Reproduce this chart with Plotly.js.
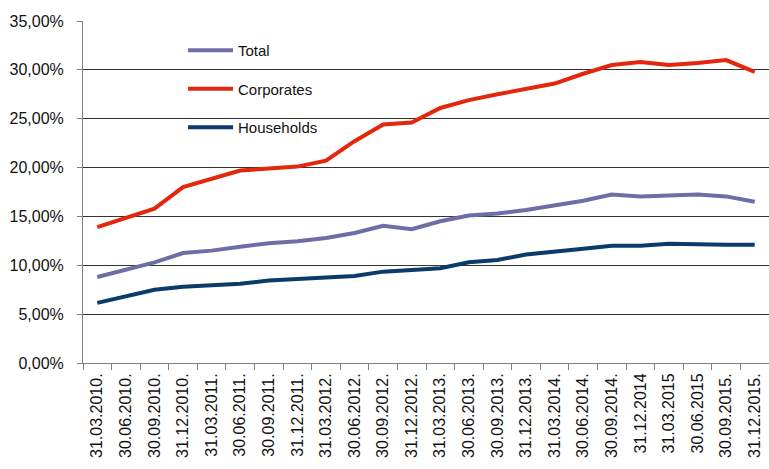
<!DOCTYPE html>
<html>
<head>
<meta charset="utf-8">
<script src="https://cdn.plot.ly/plotly-3.0.1.min.js"></script>
<style>html,body{margin:0;padding:0;background:#fff;}#chart{width:769px;height:469px;}</style>
</head>
<body>
<div id="chart"></div>
<script>
const dates = ["31.03.2010.","30.06.2010.","30.09.2010.","31.12.2010.","31.03.2011.","30.06.2011.","30.09.2011.","31.12.2011.","31.03.2012.","30.06.2012.","30.09.2012.","31.12.2012.","31.03.2013.","30.06.2013.","30.09.2013.","31.12.2013.","31.03.2014.","30.06.2014.","30.09.2014.","31.12.2014","31.03.2015","30.06.2015","30.09.2015.","31.12.2015."];
const total = [8.8,9.6,10.3,11.25,11.5,11.9,12.25,12.45,12.8,13.3,14.05,13.7,14.5,15.1,15.3,15.65,16.1,16.6,17.25,17.05,17.15,17.25,17.05,16.5];
const corporates = [13.9,14.9,15.8,18.0,18.8,19.7,19.9,20.1,20.7,22.7,24.4,24.6,26.1,26.9,27.5,28.1,28.6,29.6,30.5,30.8,30.5,30.7,31.0,29.8];
const households = [6.15,6.85,7.5,7.8,7.9,8.1,8.45,8.6,8.7,8.9,9.35,9.5,9.7,10.3,10.55,11.1,11.35,11.7,12.0,12.0,12.2,12.1,12.1,12.1];

const toFrac = a => a.map(v => v / 100);
const traces = [
  {x: dates, y: toFrac(total), name: "Total", mode: "lines", line: {color: "#6E6EA6", width: 4}, legendgroup: "a"},
  {x: dates, y: toFrac(corporates), name: "Corporates", mode: "lines", line: {color: "#E3260C", width: 4}, legendgroup: "b"},
  {x: dates, y: toFrac(households), name: "Households", mode: "lines", line: {color: "#0B3A6B", width: 4}, legendgroup: "c"}
];
const layout = {
  width: 769, height: 469,
  margin: {l: 83, r: 0, t: 21, b: 106, autoexpand: false},
  paper_bgcolor: "#fff", plot_bgcolor: "#fff",
  separators: ",.",
  font: {family: "Liberation Sans, Arial, sans-serif", color: "#111", size: 16},
  showlegend: true,
  legend: {
    x: 100/686, y: 1 - 13/342, xanchor: "left", yanchor: "top",
    bgcolor: "rgba(255,255,255,0)", borderwidth: 0,
    font: {size: 15, color: "#111"},
    tracegroupgap: 16, itemwidth: 45, traceorder: "grouped"
  },
  xaxis: {
    type: "category", range: [-0.5, 23.5], dtick: 1,
    tickangle: -90, tickson: "boundaries", ticks: "outside", ticklen: 6, tickcolor: "#808080",
    showline: true, linecolor: "#808080", linewidth: 1, showgrid: false,
    ticklabelstandoff: 3,
    tickfont: {size: 16, color: "#111"}, fixedrange: true
  },
  yaxis: {
    range: [0, 0.35], dtick: 0.05, tick0: 0, tickformat: ".2%",
    ticks: "outside", ticklen: 5, tickcolor: "#808080",
    showline: true, linecolor: "#808080", linewidth: 1,
    showgrid: true, gridcolor: "#333", gridwidth: 1, zeroline: false,
    ticklabelstandoff: 10,
    tickfont: {size: 16, color: "#111"}, fixedrange: true
  }
};
Plotly.newPlot("chart", traces, layout, {displayModeBar: false, staticPlot: true});
</script>
</body>
</html>
